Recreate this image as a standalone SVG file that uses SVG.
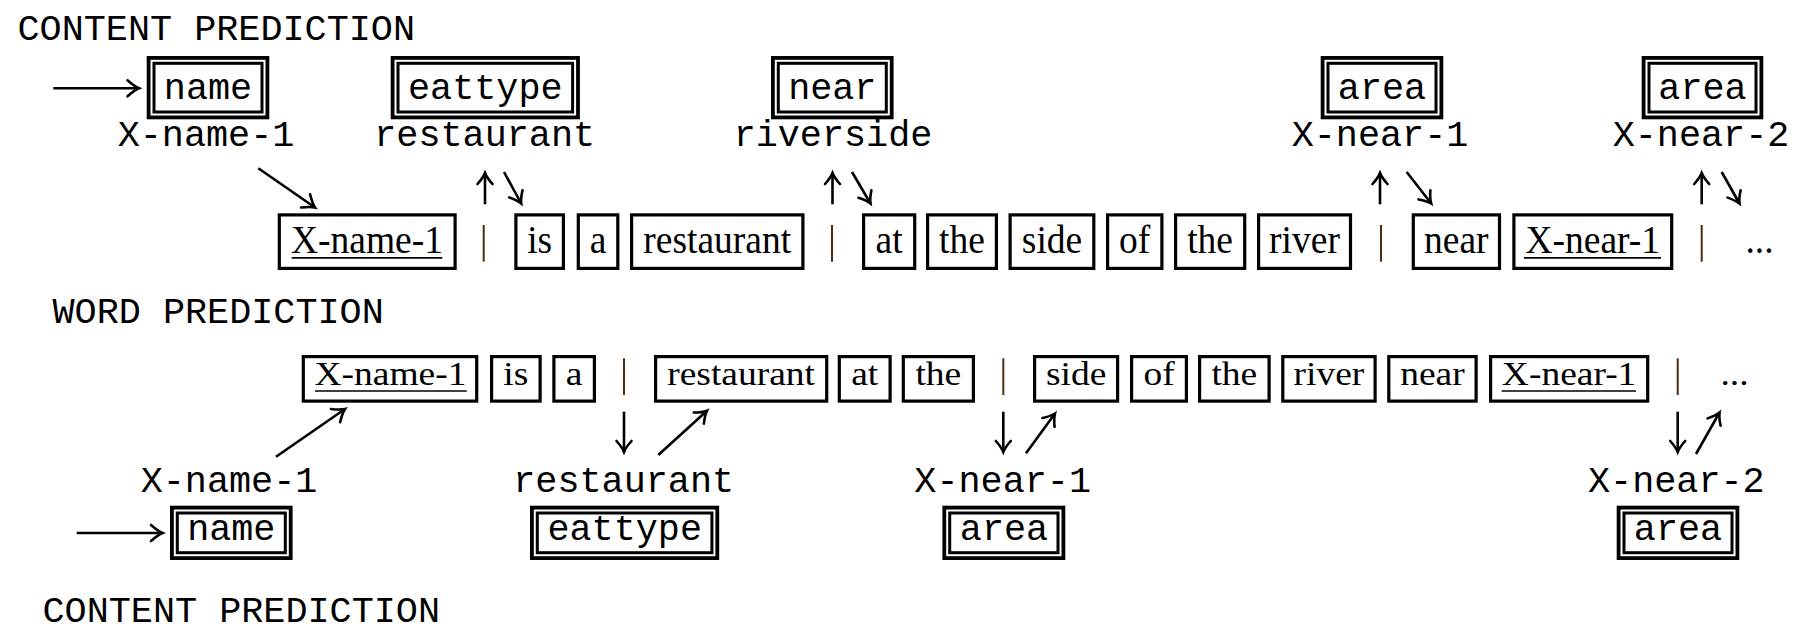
<svg xmlns="http://www.w3.org/2000/svg" width="1815" height="643" viewBox="0 0 1815 643">
<defs>
<style>
.mono{font-family:"Liberation Mono","Courier New",monospace;font-size:36.8px;fill:#000}
.serif{font-family:"Liberation Serif","Times New Roman",serif;font-size:37.5px;fill:#000}
.mid{text-anchor:middle}
.wb{fill:#fff;stroke:#000;stroke-width:3.2}
.ob{fill:#fff;stroke:#000;stroke-width:3.8}
.ib{fill:none;stroke:#000;stroke-width:3}
.ul{stroke:#000;stroke-width:1.7}
.sep{stroke:#4a2c12;stroke-width:2}
.ar{stroke:#000;stroke-width:2.6;fill:none;marker-end:url(#ah)}
.sa{stroke:#000;stroke-width:2.6;fill:none;marker-end:url(#ahs)}
</style>
<marker id="ah" markerUnits="userSpaceOnUse" markerWidth="30" markerHeight="30" viewBox="-15 -15 30 30" refX="0" refY="0" orient="auto" overflow="visible">
<path d="M-11.5,-8 C-6,-3.2 -2,-0.8 0,0 C-2,0.8 -6,3.2 -11.5,8" fill="none" stroke="#000" stroke-width="2.6" stroke-linecap="round"/>
</marker>
<marker id="ahs" markerUnits="userSpaceOnUse" markerWidth="30" markerHeight="30" viewBox="-15 -15 30 30" refX="0" refY="0" orient="auto" overflow="visible">
<path d="M-11,-7.5 C-6,-3 -2,-0.8 0,0 C-2,0.8 -6,3 -11,7.5" fill="none" stroke="#000" stroke-width="2.6" stroke-linecap="round"/>
</marker>
</defs>
<rect x="0" y="0" width="1815" height="643" fill="#fff"/>

<g id="headings">
<text class="mono" x="17.5" y="40">CONTENT PREDICTION</text>
<text class="mono" x="52.5" y="323.3">WORD PREDICTION</text>
<text class="mono" x="42.5" y="621.7">CONTENT PREDICTION</text>
</g>

<!-- TOP content prediction nodes -->
<g id="top-name">
<rect class="ob" x="148.6" y="57.9" width="118.8" height="59.5"/>
<rect class="ib" x="154" y="63.3" width="108" height="48.7"/>
<text class="mono mid" x="208" y="99.3">name</text>
<text class="mono mid" x="206" y="146">X-name-1</text>
</g>
<g id="top-eattype">
<rect class="ob" x="392.6" y="57.9" width="185.4" height="59.5"/>
<rect class="ib" x="398" y="63.3" width="174.6" height="48.7"/>
<text class="mono mid" x="485.3" y="99.3">eattype</text>
<text class="mono mid" x="484.7" y="146">restaurant</text>
</g>
<g id="top-near">
<rect class="ob" x="772.9" y="57.9" width="118.8" height="59.5"/>
<rect class="ib" x="778.3" y="63.3" width="108" height="48.7"/>
<text class="mono mid" x="832.3" y="99.3">near</text>
<text class="mono mid" x="833" y="146">riverside</text>
</g>
<g id="top-area-1">
<rect class="ob" x="1322.6" y="57.9" width="118.8" height="59.5"/>
<rect class="ib" x="1328" y="63.3" width="108" height="48.7"/>
<text class="mono mid" x="1382" y="99.3">area</text>
<text class="mono mid" x="1380" y="146">X-near-1</text>
</g>
<g id="top-area-2">
<rect class="ob" x="1643.6" y="57.9" width="117.8" height="59.5"/>
<rect class="ib" x="1649" y="63.3" width="107" height="48.7"/>
<text class="mono mid" x="1702.5" y="99.3">area</text>
<text class="mono mid" x="1701" y="146">X-near-2</text>
</g>

<!-- TOP word row -->
<g id="top-words">
<g id="tw-xname1"><rect class="wb" x="279.3" y="214.9" width="175.8" height="53.5"/><text class="serif mid" transform="translate(367 253.3) scale(1 1.06)">X-name-1</text><line class="ul" x1="291.7" y1="257.8" x2="442.3" y2="257.8"/></g>
<g id="tw-is"><rect class="wb" x="515.9" y="214.9" width="47.5" height="53.5"/><text class="serif mid" transform="translate(539.7 253.3) scale(1 1.06)">is</text></g>
<g id="tw-a"><rect class="wb" x="578.3" y="214.9" width="39.5" height="53.5"/><text class="serif mid" transform="translate(598 253.3) scale(1 1.06)">a</text></g>
<g id="tw-restaurant"><rect class="wb" x="631.6" y="214.9" width="171.3" height="53.5"/><text class="serif mid" transform="translate(717.2 253.3) scale(1 1.06)">restaurant</text></g>
<g id="tw-at"><rect class="wb" x="863.6" y="214.9" width="51.1" height="53.5"/><text class="serif mid" transform="translate(889.1 253.3) scale(1 1.06)">at</text></g>
<g id="tw-the1"><rect class="wb" x="927.6" y="214.9" width="68.8" height="53.5"/><text class="serif mid" transform="translate(962 253.3) scale(1 1.06)">the</text></g>
<g id="tw-side"><rect class="wb" x="1010.1" y="214.9" width="83.7" height="53.5"/><text class="serif mid" transform="translate(1052 253.3) scale(1 1.06)">side</text></g>
<g id="tw-of"><rect class="wb" x="1107.6" y="214.9" width="54.3" height="53.5"/><text class="serif mid" transform="translate(1134.7 253.3) scale(1 1.06)">of</text></g>
<g id="tw-the2"><rect class="wb" x="1175.6" y="214.9" width="69.1" height="53.5"/><text class="serif mid" transform="translate(1210.1 253.3) scale(1 1.06)">the</text></g>
<g id="tw-river"><rect class="wb" x="1258.6" y="214.9" width="91.9" height="53.5"/><text class="serif mid" transform="translate(1304.5 253.3) scale(1 1.06)">river</text></g>
<g id="tw-near"><rect class="wb" x="1413.3" y="214.9" width="86.2" height="53.5"/><text class="serif mid" transform="translate(1456.3 253.3) scale(1 1.06)">near</text></g>
<g id="tw-xnear1"><rect class="wb" x="1513.9" y="214.9" width="157.8" height="53.5"/><text class="serif mid" transform="translate(1592.8 253.3) scale(1 1.06)">X-near-1</text><line class="ul" x1="1524" y1="257.8" x2="1661" y2="257.8"/></g>
<g id="tw-dots"><text class="serif" transform="translate(1745.5 253.3) scale(1 1.06)">...</text></g>
<line class="sep" x1="483.7" y1="225" x2="483.7" y2="261.7"/>
<line class="sep" x1="832" y1="225" x2="832" y2="261.7"/>
<line class="sep" x1="1381" y1="225" x2="1381" y2="261.7"/>
<line class="sep" x1="1701.7" y1="225" x2="1701.7" y2="261.7"/>
</g>

<!-- BOTTOM word row -->
<g id="bottom-words">
<g id="bw-xname1"><rect class="wb" x="303.3" y="356.6" width="173.4" height="44.5"/><text class="serif mid" transform="translate(390.5 385) scale(1 0.87)">X-name-1</text><line class="ul" x1="315" y1="391" x2="466.7" y2="391"/></g>
<g id="bw-is"><rect class="wb" x="491.6" y="356.6" width="48.5" height="44.5"/><text class="serif mid" transform="translate(515.8 385) scale(1 0.87)">is</text></g>
<g id="bw-a"><rect class="wb" x="553.9" y="356.6" width="40.5" height="44.5"/><text class="serif mid" transform="translate(574.1 385) scale(1 0.87)">a</text></g>
<g id="bw-restaurant"><rect class="wb" x="655.6" y="356.6" width="171.1" height="44.5"/><text class="serif mid" transform="translate(741.1 385) scale(1 0.87)">restaurant</text></g>
<g id="bw-at"><rect class="wb" x="839.3" y="356.6" width="50.8" height="44.5"/><text class="serif mid" transform="translate(864.7 385) scale(1 0.87)">at</text></g>
<g id="bw-the1"><rect class="wb" x="903.3" y="356.6" width="70.1" height="44.5"/><text class="serif mid" transform="translate(938.3 385) scale(1 0.87)">the</text></g>
<g id="bw-side"><rect class="wb" x="1034.6" y="356.6" width="83" height="44.5"/><text class="serif mid" transform="translate(1076.1 385) scale(1 0.87)">side</text></g>
<g id="bw-of"><rect class="wb" x="1131.6" y="356.6" width="54.8" height="44.5"/><text class="serif mid" transform="translate(1159 385) scale(1 0.87)">of</text></g>
<g id="bw-the2"><rect class="wb" x="1199.6" y="356.6" width="69.5" height="44.5"/><text class="serif mid" transform="translate(1234.3 385) scale(1 0.87)">the</text></g>
<g id="bw-river"><rect class="wb" x="1282.8" y="356.6" width="92.3" height="44.5"/><text class="serif mid" transform="translate(1328.9 385) scale(1 0.87)">river</text></g>
<g id="bw-near"><rect class="wb" x="1388.8" y="356.6" width="87.3" height="44.5"/><text class="serif mid" transform="translate(1432.4 385) scale(1 0.87)">near</text></g>
<g id="bw-xnear1"><rect class="wb" x="1490.6" y="356.6" width="157.1" height="44.5"/><text class="serif mid" transform="translate(1569.1 385) scale(1 0.87)">X-near-1</text><line class="ul" x1="1501.7" y1="391" x2="1636" y2="391"/></g>
<g id="bw-dots"><text class="serif" transform="translate(1720.5 385) scale(1 0.87)">...</text></g>
<line class="sep" x1="624" y1="358.3" x2="624" y2="395"/>
<line class="sep" x1="1003.3" y1="358.3" x2="1003.3" y2="395"/>
<line class="sep" x1="1677.7" y1="358.3" x2="1677.7" y2="395"/>
</g>

<!-- BOTTOM content prediction nodes -->
<g id="bottom-name">
<text class="mono mid" x="229" y="491.7">X-name-1</text>
<rect class="ob" x="171.9" y="507.6" width="118.8" height="50.5"/>
<rect class="ib" x="177.3" y="513" width="108" height="39.7"/>
<text class="mono mid" x="231.3" y="540">name</text>
</g>
<g id="bottom-eattype">
<text class="mono mid" x="623.7" y="491.7">restaurant</text>
<rect class="ob" x="531.9" y="507.6" width="185.4" height="50.5"/>
<rect class="ib" x="537.3" y="513" width="174.6" height="39.7"/>
<text class="mono mid" x="624.7" y="540">eattype</text>
</g>
<g id="bottom-area-1">
<text class="mono mid" x="1002.7" y="491.7">X-near-1</text>
<rect class="ob" x="944.3" y="507.6" width="119.1" height="50.5"/>
<rect class="ib" x="949.7" y="513" width="108.3" height="39.7"/>
<text class="mono mid" x="1004" y="540">area</text>
</g>
<g id="bottom-area-2">
<text class="mono mid" x="1676.3" y="491.7">X-near-2</text>
<rect class="ob" x="1618.6" y="507.6" width="118.8" height="50.5"/>
<rect class="ib" x="1624" y="513" width="108" height="39.7"/>
<text class="mono mid" x="1678" y="540">area</text>
</g>

<g id="connectors">
<line class="ar" x1="53.3" y1="88.3" x2="139" y2="88.3"/>
<line class="ar" x1="258.3" y1="168.3" x2="315" y2="207.5"/>
<line class="ar" x1="76.7" y1="533" x2="162.5" y2="533"/>
<line class="ar" x1="276" y1="456.7" x2="345" y2="409"/>

<line class="sa" x1="485" y1="204.3" x2="485" y2="173"/>
<line class="sa" x1="504" y1="172" x2="521.2" y2="203.5"/>
<line class="sa" x1="832.5" y1="204.3" x2="832.5" y2="173"/>
<line class="sa" x1="852" y1="172" x2="870.5" y2="203.5"/>
<line class="sa" x1="1380" y1="204.3" x2="1380" y2="173"/>
<line class="sa" x1="1406.7" y1="172" x2="1431.2" y2="203.5"/>
<line class="sa" x1="1701.7" y1="204.3" x2="1701.7" y2="173"/>
<line class="sa" x1="1721.7" y1="172" x2="1739.5" y2="203.5"/>

<line class="sa" x1="624" y1="411.7" x2="624" y2="452"/>
<line class="sa" x1="658.3" y1="455" x2="707" y2="410.7"/>
<line class="sa" x1="1003.3" y1="411.7" x2="1003.3" y2="452"/>
<line class="sa" x1="1026" y1="453.3" x2="1055" y2="413.5"/>
<line class="sa" x1="1677.7" y1="411.7" x2="1677.7" y2="452"/>
<line class="sa" x1="1696" y1="454" x2="1719.5" y2="412.5"/>
</g>
</svg>
